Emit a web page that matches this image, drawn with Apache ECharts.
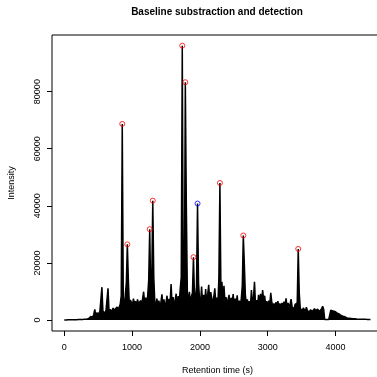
<!DOCTYPE html>
<html><head><meta charset="utf-8">
<script src="https://cdn.jsdelivr.net/npm/echarts@6/dist/echarts.min.js"></script>
<style>html,body{margin:0;padding:0;background:#fff}#c{width:377px;height:377px}</style>
</head><body><div id="c"></div>
<script>
// Sampling step of the chromatogram (seconds)
const TIME_STEP = 15;
// Baseline-subtracted intensity, in hundreds of counts, one value per TIME_STEP from t = 0
const intensityHundreds = [
  0,0,0,0,1,1,1,1,1,1,1,1,1,2,2,2,2,2,2,2,3,3,3,4,5,8,
  12,17,10,20,37,15,25,28,22,30,26,
  115,30,35,25,33,28,111,30,38,28,35,42,30,38,32,45,36,40,55,85,
  687,82,30,90,130,265,140,50,70,
  62,50,75,55,66,48,72,58,52,68,56,74,99,62,78,58,85,140,318,90,140,418,150,62,
  48,75,52,68,45,62,90,50,72,44,
  60,85,48,74,58,126,55,80,46,70,
  92,52,84,60,110,150,961,90,70,833,
  400,95,65,99,58,82,96,220,88,70,
  120,408,130,70,
  60,117,55,88,62,108,52,90,123,66,
  98,105,55,82,111,58,78,52,150,480,
  100,134,62,120,60,
  80,50,72,88,48,78,56,91,52,75,
  58,86,46,68,52,74,120,296,199,90,55,
  72,50,66,48,105,56,78,134,55,70,
  48,88,58,92,62,105,70,85,50,66,
  45,68,52,95,62,48,58,44,62,50,
  66,46,58,42,60,48,64,50,76,46,
  60,44,56,73,45,52,40,55,48,60,
  249,95,40,
  38,32,42,35,30,45,33,38,28,36,
  42,30,35,40,32,28,38,34,30,36,
  40,48,38,
  2,2,2,2,2,3,
  34,33,32,34,30,31,25,22,21,20,16,14,13,12,11,8,7,6,6,
  5,5,4,4,4,4,3,3,3,3,3,3,3,3,3,3,2,2,2,2,2
];
const xTicks = [0, 1000, 2000, 3000, 4000];
const yTicks = [0, 20000, 40000, 60000, 80000];
const xRange = [-181, 4700];
const yRange = [-3860, 99840];
// Detected peaks (retention times, s)
const peakTimesRed = [855, 930, 1260, 1305, 1740, 1785, 1905, 2295, 2640, 3450];
const peakTimesBlue = [1965];

const signal = intensityHundreds.map((v, i) => [i * TIME_STEP, v * 100]);
const peakPoint = t => [t, intensityHundreds[Math.round(t / TIME_STEP)] * 100];

const FONT = "'Liberation Sans', Arial, sans-serif";
const chart = echarts.init(document.getElementById('c'), null, {renderer: 'canvas'});
chart.setOption({
  animation: false,
  backgroundColor: '#fff',
  title: {
    text: 'Baseline substraction and detection',
    left: 217, top: 7, textAlign: 'center', padding: 0,
    textStyle: {fontFamily: FONT, fontSize: 10, fontWeight: 'bold', color: '#000'}
  },
  grid: {left: 52, top: 35, width: 331, height: 296, outerBoundsMode: 'none', containLabel: false,
         show: true, borderColor: '#000', borderWidth: 1, backgroundColor: 'transparent'},
  xAxis: {
    type: 'value', min: xRange[0], max: xRange[1],
    name: 'Retention time (s)', nameLocation: 'middle', nameGap: 35,
    nameTextStyle: {fontFamily: FONT, fontSize: 9, color: '#000'},
    axisLine: {show: false, onZero: false},
    splitLine: {show: false},
    axisTick: {show: true, length: 5, customValues: xTicks, lineStyle: {color: '#000'}},
    axisLabel: {customValues: xTicks, formatter: v => String(v), margin: 12, fontFamily: FONT, fontSize: 9, color: '#000'}
  },
  yAxis: {
    type: 'value', min: yRange[0], max: yRange[1],
    name: 'Intensity', nameLocation: 'middle', nameGap: 36,
    nameTextStyle: {fontFamily: FONT, fontSize: 9, color: '#000'},
    axisLine: {show: false, onZero: false},
    splitLine: {show: false},
    axisTick: {show: true, length: 5, customValues: yTicks, lineStyle: {color: '#000'}},
    axisLabel: {customValues: yTicks, formatter: v => String(v), rotate: 90, margin: 10, fontFamily: FONT, fontSize: 9, color: '#000'}
  },
  series: [
    {
      type: 'line', data: signal, showSymbol: false, symbol: 'none', sampling: null,
      lineStyle: {color: '#000', width: 1.5},
      areaStyle: {color: '#000', opacity: 1},
      z: 2
    },
    {
      type: 'scatter', data: peakTimesRed.map(peakPoint), symbol: 'circle', symbolSize: 5,
      itemStyle: {color: 'rgba(0,0,0,0)', borderColor: '#ff0000', borderWidth: 1}, z: 3
    },
    {
      type: 'scatter', data: peakTimesBlue.map(peakPoint), symbol: 'circle', symbolSize: 5,
      itemStyle: {color: 'rgba(0,0,0,0)', borderColor: '#0000ff', borderWidth: 1}, z: 3
    }
  ]
});
</script>
</body></html>
